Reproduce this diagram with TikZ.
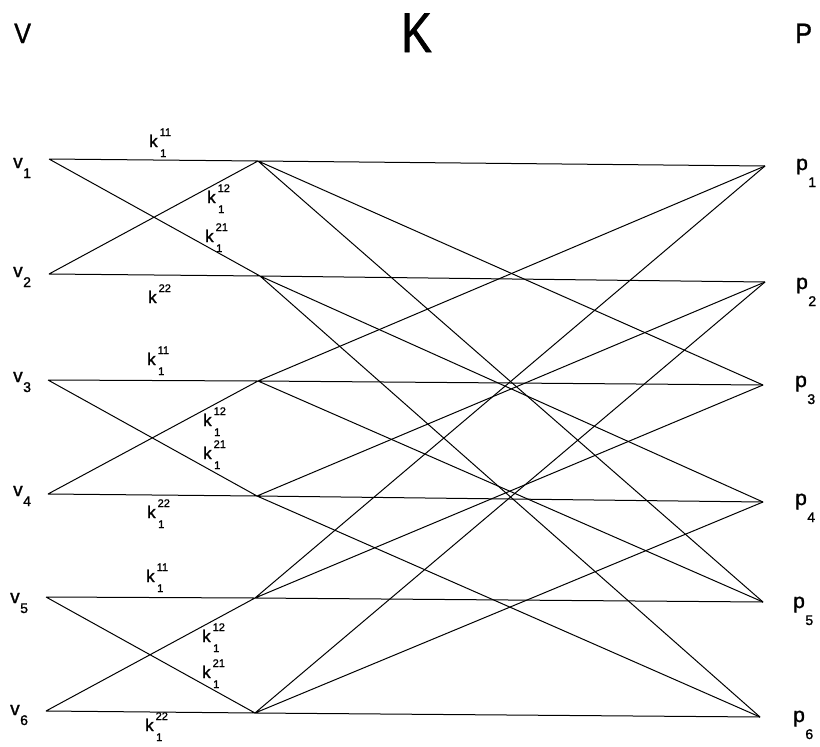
\documentclass[tikz,border=0pt]{standalone}
\usepackage{fontspec}
\setmainfont{Liberation Sans}[FakeBold=1.3]
\usetikzlibrary{positioning}

\newcommand{\klab}[2]{k\makebox[0pt][l]{\hspace{2pt}\raisebox{11pt}{\fontsize{11}{11}\selectfont #1}}\hspace{2.5pt}\raisebox{-10pt}{\fontsize{11}{11}\selectfont #2}}
\newcommand{\vlab}[2]{#1\hspace{0.5pt}\raisebox{-10pt}{\fontsize{14}{14}\selectfont #2}}
\newcommand{\plab}[2]{#1\hspace{0.5pt}\raisebox{-17pt}{\fontsize{14}{14}\selectfont #2}}

\begin{document}
\begin{tikzpicture}[x=1pt, y=-1pt,
    wire/.style={line width=1pt},
    side/.style={anchor=base west, inner sep=0pt, font=\fontsize{19}{19}\selectfont},
    klabel/.style={anchor=base west, inner sep=0pt, font=\fontsize{17}{17}\selectfont},
    title/.style={anchor=base west, inner sep=0pt}]
    \useasboundingbox (0,0) rectangle (820,747);

    \node[title, font=\fontsize{28}{28}\selectfont] (vtitle) at (14,43) {\scalebox{0.9}[1]{V}};
    \node[title, font=\fontsize{56}{56}\selectfont] (ktitle) at (401,52) {\scalebox{0.82}[1]{K}};
    \node[title, font=\fontsize{28}{28}\selectfont] (ptitle) at (795,43) {\scalebox{0.9}[1]{P}};

    \coordinate (v1) at (49,159);
    \coordinate (v2) at (49,274);
    \coordinate (v3) at (48,380);
    \coordinate (v4) at (48,494);
    \coordinate (v5) at (46,597);
    \coordinate (v6) at (46,711);

    \coordinate (k1) at (258,161);
    \coordinate (k2) at (260,276);
    \coordinate (k3) at (258,381);
    \coordinate (k4) at (257,496);
    \coordinate (k5) at (255,598);
    \coordinate (k6) at (255,713);

    \coordinate (p1) at (765,166);
    \coordinate (p2) at (765,282);
    \coordinate (p3) at (763,385);
    \coordinate (p4) at (763,502);
    \coordinate (p5) at (763,602);
    \coordinate (p6) at (760,717);

    \node[side] (v1l) at (13,168) {\vlab{v}{1}};
    \node[side] (v2l) at (13,277) {\vlab{v}{2}};
    \node[side] (v3l) at (13,382) {\vlab{v}{3}};
    \node[side] (v4l) at (13,496) {\vlab{v}{4}};
    \node[side] (v5l) at (10,603) {\vlab{v}{5}};
    \node[side] (v6l) at (10,715) {\vlab{v}{6}};

    \node[side, font=\fontsize{21}{21}\selectfont] (p1l) at (796,170) {\plab{p}{1}};
    \node[side, font=\fontsize{21}{21}\selectfont] (p2l) at (796,289) {\plab{p}{2}};
    \node[side, font=\fontsize{21}{21}\selectfont] (p3l) at (795,387) {\plab{p}{3}};
    \node[side, font=\fontsize{21}{21}\selectfont] (p4l) at (795,505) {\plab{p}{4}};
    \node[side, font=\fontsize{21}{21}\selectfont] (p5l) at (793,608) {\plab{p}{5}};
    \node[side, font=\fontsize{21}{21}\selectfont] (p6l) at (793,722) {\plab{p}{6}};

    \node[klabel] (ka11) at (149,147) {\klab{11}{1}};
    \node[klabel] (ka12) at (207,203) {\klab{12}{1}};
    \node[klabel] (ka21) at (205,242) {\klab{21}{1}};
    \node[klabel] (ka22) at (148,303) {\klab{22}{}};

    \node[klabel] (kb11) at (147,365) {\klab{11}{1}};
    \node[klabel] (kb12) at (203,426) {\klab{12}{1}};
    \node[klabel] (kb21) at (203,459) {\klab{21}{1}};
    \node[klabel] (kb22) at (147,518) {\klab{22}{1}};

    \node[klabel] (kc11) at (146,582) {\klab{11}{1}};
    \node[klabel] (kc12) at (202,642) {\klab{12}{1}};
    \node[klabel] (kc21) at (202,678) {\klab{21}{1}};
    \node[klabel] (kc22) at (145,731) {\klab{22}{1}};

    \draw[wire] (v1) -- (k1) (v1) -- (k2) (v2) -- (k1) (v2) -- (k2);
    \draw[wire] (v3) -- (k3) (v3) -- (k4) (v4) -- (k3) (v4) -- (k4);
    \draw[wire] (v5) -- (k5) (v5) -- (k6) (v6) -- (k5) (v6) -- (k6);

    \foreach \k/\a/\b/\c in {1/1/3/5, 2/2/4/6, 3/3/1/5, 4/4/2/6, 5/5/1/3, 6/6/2/4}
        \draw[wire] (k\k) -- (p\a) (k\k) -- (p\b) (k\k) -- (p\c);
\end{tikzpicture}
\end{document}
